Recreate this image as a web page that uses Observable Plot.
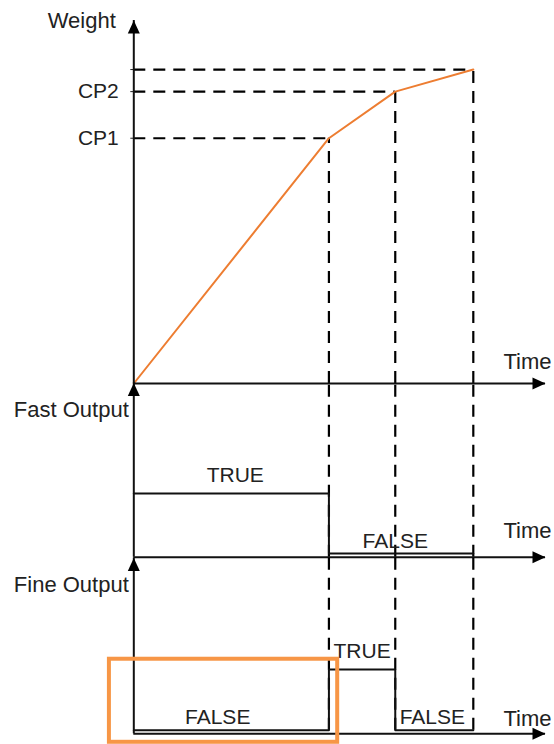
<!DOCTYPE html>
<html><head><meta charset="utf-8">
<script src="https://cdn.jsdelivr.net/npm/d3@7"></script>
<script src="https://cdn.jsdelivr.net/npm/@observablehq/plot@0.6"></script>
<style>
body{margin:0;background:#fff;}
#chart{position:relative;width:554px;height:744px;font-family:"Liberation Sans",Arial,sans-serif;}
#chart svg{position:absolute;left:0;top:0;}
</style></head><body><div id="chart"></div>
<script>
// ---- data ----
const times = [0, 10, 13.4, 17.4];          // start, CP1 reached, CP2 reached, target reached
const timeEnd = 21.1;                       // end of time axis
const weights = [0, 100, 119, 128];         // weight at those times
const weightMax = 148;                      // top of weight axis
const weightTickLabels = ["", "CP1", "CP2", ""];
const fastOutput = [1, 0, 0, 0];            // 1 = TRUE, 0 = FALSE
const fineOutput = [0, 1, 0, 0];
const fastLabelTimes = [5.2, 13.4];
const fastLabelStates = [1, 0];
const fineLabelTimes = [4.3, 11.7, 15.3];
const fineLabelStates = [0, 1, 0];
const stateNames = ["FALSE", "TRUE"];
const panelTitles = ["Weight", "Fast Output", "Fine Output"];
const timeTitle = "Time";
const levelMin = -0.06, levelMax = 2.84;    // output axis extent
const highlight = [{t1: -1.25, t2: 10.45, v1: -0.2, v2: 1.17}];

// ---- drawing ----
const W = 554, H = 744;
const INK = "#111";
const ORANGE_LINE = "#ED7D31";
const ORANGE_BOX = "#F79646";
const DASH = "12,8";
const FONT = "'Liberation Sans', Arial, sans-serif";

const arrowUp = {draw(c){c.moveTo(0,0);c.lineTo(6,13);c.lineTo(-6,13);c.closePath();}};
const arrowRight = {draw(c){c.moveTo(0,0);c.lineTo(-13,6);c.lineTo(-13,-6);c.closePath();}};

function axes(yBottom, yTop) {
  return [
    Plot.ruleX([0], {x: d => d, y1: () => yBottom, y2: () => yTop, stroke: INK, strokeWidth: 2}),
    Plot.ruleY([yBottom], {y: d => d, x1: () => 0, x2: () => timeEnd, stroke: INK, strokeWidth: 2}),
    Plot.dot([[0, yTop]], {x: d => d[0], y: d => d[1], symbol: arrowUp, fill: "#000", stroke: "none", r: 5}),
    Plot.dot([[timeEnd, yBottom]], {x: d => d[0], y: d => d[1], symbol: arrowRight, fill: "#000", stroke: "none", r: 5})
  ];
}
function titles(title, yBottom, yTop, tdx, tdy, timeDy) {
  return [
    Plot.text([title], {x: () => 0, y: () => yTop, text: d => d, textAnchor: "end", dx: tdx, dy: tdy, fontSize: 22, fill: "#222"}),
    Plot.text([timeTitle], {x: () => timeEnd, y: () => yBottom, text: d => d, textAnchor: "end", dx: 6, dy: timeDy, fontSize: 22, fill: "#222"})
  ];
}
const baseStyle = {background: "none", overflow: "visible", fontFamily: FONT, fontSize: "21px", color: "#222"};

const cpRows = times.slice(1).map((t, i) => ({t, w: weights[i + 1]}));
const weightRows = times.map((t, i) => ({t, w: weights[i]}));

const plotA = Plot.plot({
  width: W, height: H,
  marginLeft: 133.3, marginRight: 9, marginTop: 20, marginBottom: 361,
  x: {domain: [0, timeEnd], axis: null},
  y: {domain: [0, weightMax], ticks: weights.slice(1), tickFormat: d => weightTickLabels[weights.indexOf(d)], tickSize: 3, tickPadding: 12, label: null},
  style: baseStyle,
  marks: [
    Plot.ruleY(cpRows, {y: "w", x1: () => 0, x2: "t", stroke: "#000", strokeWidth: 2.2, strokeDasharray: DASH}),
    Plot.ruleX(cpRows, {x: "t", y1: () => 0, y2: "w", stroke: "#000", strokeWidth: 2.2, strokeDasharray: DASH}),
    Plot.line(weightRows, {x: "t", y: "w", stroke: ORANGE_LINE, strokeWidth: 2}),
    ...axes(0, weightMax),
    ...titles(panelTitles[0], 0, weightMax, -18, 0, -22)
  ]
});

function outputPlot(states, labelTimes, labelStates, title, mTop, mBottom, yFrom, timeDy, extra) {
  const rows = times.map((t, i) => ({t, v: states[i]}));
  const labels = labelTimes.map((t, i) => ({t, v: labelStates[i]}));
  return Plot.plot({
    width: W, height: H,
    marginLeft: 133.3, marginRight: 9, marginTop: mTop, marginBottom: mBottom,
    x: {domain: [0, timeEnd], axis: null},
    y: {domain: [levelMin, levelMax], axis: null},
    style: baseStyle,
    marks: [
      Plot.ruleX(times.slice(1), {x: d => d, y1: () => yFrom, y2: () => levelMax, stroke: "#000", strokeWidth: 2.2, strokeDasharray: DASH}),
      Plot.line(rows, {x: "t", y: "v", curve: "step-after", stroke: INK, strokeWidth: 2}),
      Plot.text(labels.filter(d => d.v === 1), {x: "t", y: "v", text: d => stateNames[d.v], dy: -18, fontSize: 21, fill: "#222"}),
      Plot.text(labels.filter(d => d.v === 0), {x: "t", y: "v", text: d => stateNames[d.v], dy: -12.5, fontSize: 21, fill: "#222"}),
      ...axes(levelMin, levelMax),
      ...titles(title, levelMin, levelMax, -5, 26.5, timeDy),
      ...(extra || [])
    ]
  });
}

const plotB = outputPlot(fastOutput, fastLabelTimes, fastLabelStates, panelTitles[1], 382.5, 187.3, levelMin, -26, []);
const plotC = outputPlot(fineOutput, fineLabelTimes, fineLabelStates, panelTitles[2], 557.5, 10.7, 0, -15, [
  Plot.rect(highlight, {x1: "t1", x2: "t2", y1: "v1", y2: "v2", fill: "none", stroke: ORANGE_BOX, strokeWidth: 4})
]);

const el = document.getElementById("chart");
el.append(plotA, plotB, plotC);
</script>
</body></html>
